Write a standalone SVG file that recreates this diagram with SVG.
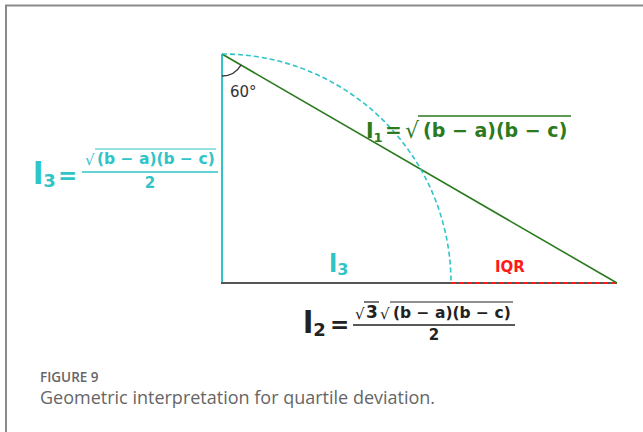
<svg xmlns="http://www.w3.org/2000/svg" width="643" height="432" viewBox="0 0 643 432">
<style>
.f{font-family:"DejaVu Sans","Liberation Sans",sans-serif;font-weight:bold}
.r{font-family:"DejaVu Sans","Liberation Sans",sans-serif}
.cy{fill:#2fc4c8}
.gr{fill:#2a7a1e}
.bk{fill:#222}
.cap{font-family:"Open Sans","Lato","Liberation Sans",sans-serif;fill:#666}
</style>
<rect width="643" height="432" fill="#fff"/>
<path d="M6 432 V5.5 H643" fill="none" stroke="#8a8a8a" stroke-width="2"/>
<g id="connectors">
<line x1="222" y1="54" x2="222" y2="283" stroke="#2fc4c8" stroke-width="2"/>
<line x1="221" y1="283" x2="617" y2="283" stroke="#555" stroke-width="2"/>
<line x1="451" y1="283" x2="617" y2="283" stroke="#ff1a1a" stroke-width="2" stroke-dasharray="5,3"/>
<line x1="222" y1="54" x2="617" y2="283" stroke="#2a7a1e" stroke-width="1.6"/>
<path d="M222 54 A229 229 0 0 1 451 283" fill="none" stroke="#2fc4c8" stroke-width="1.6" stroke-dasharray="5,3"/>
<path d="M222 76 A22 22 0 0 0 241 65" fill="none" stroke="#333" stroke-width="1.4"/>
</g>
<g id="angle">
<text class="r" x="230" y="97" font-size="15" fill="#333">60°</text>
</g>
<g id="l1">
<text class="f gr" x="366" y="138" font-size="22">l<tspan font-size="13" dy="4">1</tspan></text>
<text class="f gr" x="385" y="137" font-size="20">=</text>
<text class="r gr" x="405" y="138" font-size="22">√</text>
<line x1="418" y1="116" x2="571" y2="116" stroke="#2a7a1e" stroke-width="1.5"/>
<text class="f gr" x="423" y="137" font-size="19">(b − a)(b − c)</text>
</g>
<g id="l3left">
<text class="f cy" x="33" y="184" font-size="30">l<tspan font-size="18" dy="3">3</tspan></text>
<text class="f cy" x="58" y="183" font-size="23">=</text>
<text class="r cy" x="85" y="165" font-size="15">√</text>
<line x1="95" y1="149" x2="216" y2="149" stroke="#2fc4c8" stroke-width="1.2"/>
<text class="f cy" x="97" y="164" font-size="15.5">(b − a)(b − c)</text>
<line x1="82" y1="172" x2="218" y2="172" stroke="#2fc4c8" stroke-width="1.5"/>
<text class="f cy" x="150" y="188" font-size="15" text-anchor="middle">2</text>
</g>
<g id="l3base">
<text class="f cy" x="329" y="272" font-size="24">l<tspan font-size="16" dy="3">3</tspan></text>
</g>
<g id="iqr">
<text class="f" x="495" y="272" font-size="15" fill="#ff1a1a">IQR</text>
</g>
<g id="l2">
<text class="f bk" x="303" y="333" font-size="30">l<tspan font-size="18" dy="3">2</tspan></text>
<text class="f bk" x="330" y="332" font-size="23">=</text>
<text class="r bk" x="355" y="319" font-size="15">√</text>
<line x1="364" y1="302" x2="379" y2="302" stroke="#222" stroke-width="1.2"/>
<text class="f bk" x="366" y="318" font-size="17">3</text>
<text class="r bk" x="380" y="319" font-size="15">√</text>
<line x1="390" y1="302" x2="513" y2="302" stroke="#222" stroke-width="1.2"/>
<text class="f bk" x="393" y="318" font-size="15.5">(b − a)(b − c)</text>
<line x1="353" y1="325" x2="515" y2="325" stroke="#222" stroke-width="1.5"/>
<text class="f bk" x="434" y="340" font-size="15" text-anchor="middle">2</text>
</g>
<g id="caption">
<text class="cap" x="40" y="382" font-size="13.5" font-weight="600">FIGURE 9</text>
<text class="cap" x="40" y="404" font-size="18">Geometric interpretation for quartile deviation.</text>
</g>
</svg>
